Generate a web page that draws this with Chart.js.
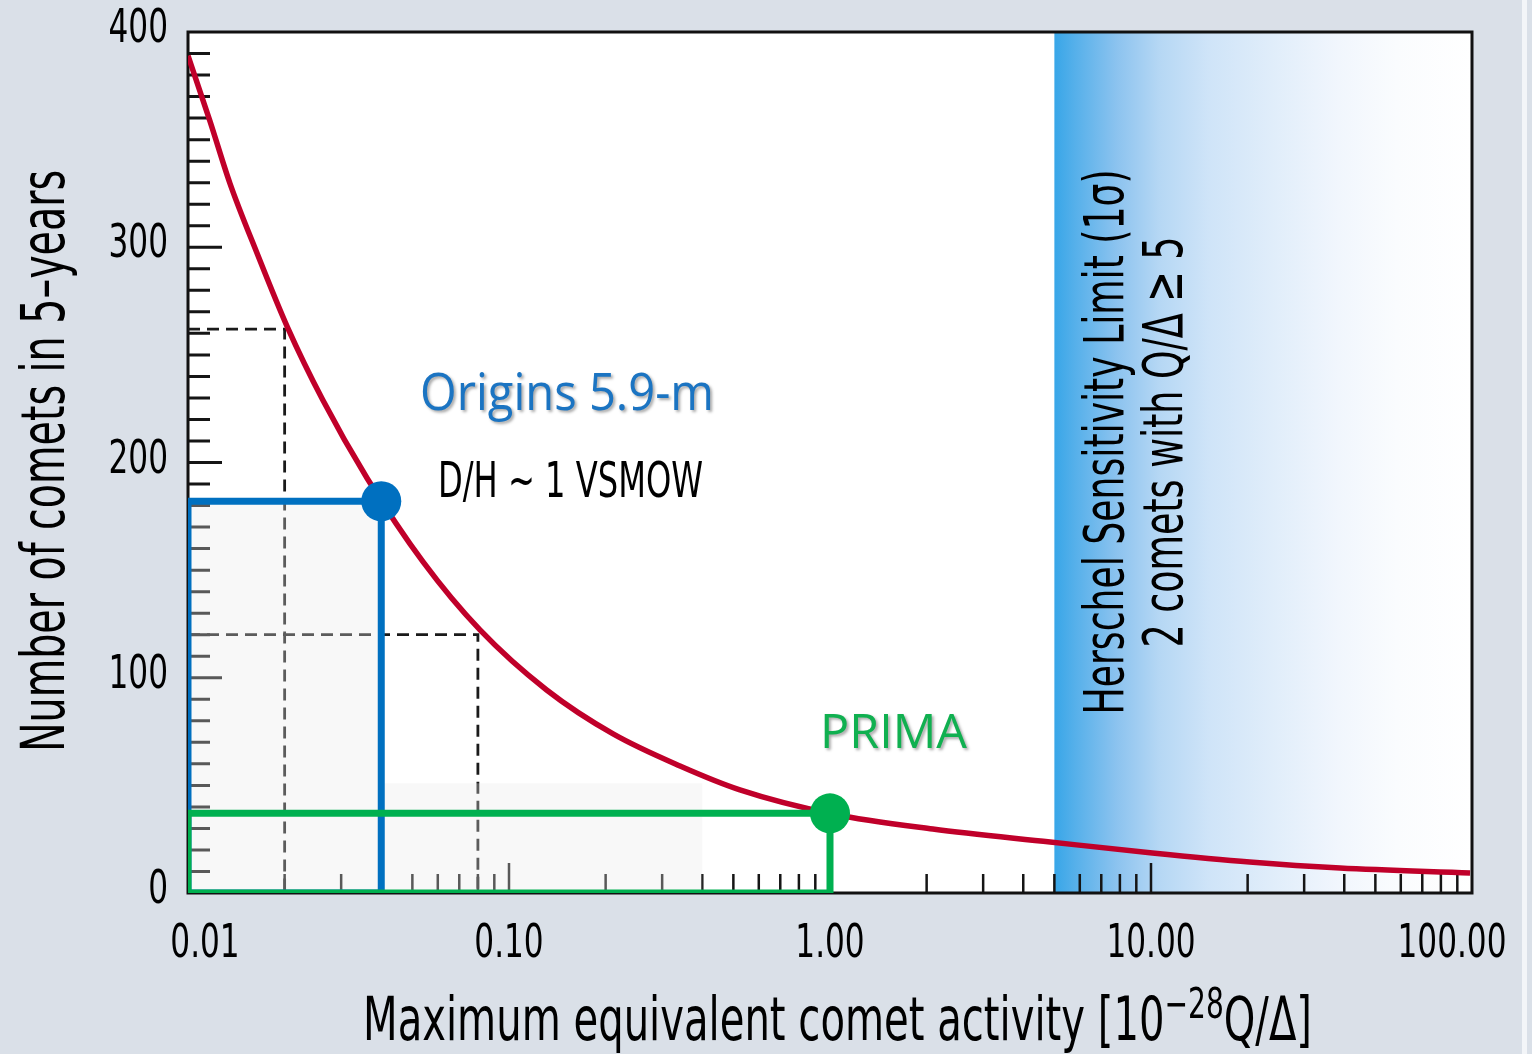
<!DOCTYPE html>
<html>
<head>
<meta charset="utf-8">
<script src="https://cdn.jsdelivr.net/npm/chart.js@4.4.1/dist/chart.umd.min.js"></script>
<style>
  html, body { margin: 0; padding: 0; background: #dae0e8; }
  canvas { display: block; }
</style>
</head>
<body>
<canvas id="cometChart" width="1532" height="1054"></canvas>
<script>
// comets expected in 5 years vs. maximum equivalent activity
const activity = [0.01, 0.0117, 0.0135, 0.0164, 0.0204, 0.0263, 0.0361, 0.054, 0.0812, 0.131, 0.211, 0.341, 0.524, 1.02, 2.09, 4.85, 10.1, 20.3, 38.8, 98.6];
const comets = [389, 358.7, 329.8, 297.3, 262.9, 229, 192.8, 153.8, 122.2, 94.3, 73.9, 59, 47.9, 36.7, 29.7, 23.7, 18.6, 14.4, 11.6, 9.3];

// mission operating points
const missionNames = ['Origins 5.9-m', 'PRIMA'];
const missionActivity = [0.04, 1.0];
const missionComets = [182, 37];

// dashed reference guides
const guideActivity = [0.02, 0.08];
const guideComets = [262, 120];

// light shaded block under the missions
const shadeActivity = 0.4;
const shadeComets = 51;

const herschelLimit = 5;

const countTicks = [0, 100, 200, 300, 400];
const activityTicks = [0.01, 0.1, 1, 10, 100];
const activityLabels = ['0.01', '0.10', '1.00', '10.00', '100.00'];

const NARROW = "'Liberation Sans Narrow', 'DejaVu Sans Condensed', 'Liberation Sans', sans-serif";
const ROUND = "'Open Sans', 'Noto Sans', sans-serif";
const BLUE = '#0070c0';
const GREEN = '#00b050';
const RED = '#c0002a';

const xMin = activityTicks[0];

function boxPath(x1, y1) {
    return [{x: xMin, y: 0}, {x: xMin, y: y1}, {x: x1, y: y1}, {x: x1, y: 0}, {x: xMin, y: 0}];
}

function guidePath(x1, y1) {
    return [{x: xMin, y: y1}, {x: x1, y: y1}, {x: x1, y: 0}];
}

// text squeezed horizontally to a given width
function fitText(ctx, text, x, y, width, align) {
    const w = ctx.measureText(text).width;
    ctx.save();
    ctx.translate(x, y);
    ctx.scale(width / w, 1);
    ctx.textAlign = align;
    ctx.fillText(text, 0, 0);
    ctx.restore();
}

const datasets = [];

// markers on top
datasets.push({
    type: 'scatter',
    data: missionActivity.map((v, i) => ({x: v, y: missionComets[i]})),
    pointRadius: 20,
    pointHoverRadius: 20,
    pointBackgroundColor: [BLUE, GREEN],
    pointBorderWidth: 0,
    order: 1
});

datasets.push({
    type: 'line',
    data: boxPath(missionActivity[1], missionComets[1]),
    borderColor: GREEN,
    borderWidth: 7,
    pointRadius: 0,
    tension: 0,
    fill: false,
    order: 2
});

datasets.push({
    type: 'line',
    data: boxPath(missionActivity[0], missionComets[0]),
    borderColor: BLUE,
    borderWidth: 7,
    pointRadius: 0,
    tension: 0,
    fill: false,
    order: 3
});

datasets.push({
    type: 'line',
    data: [
        {x: xMin, y: 0}, {x: xMin, y: missionComets[0]}, {x: missionActivity[0], y: missionComets[0]},
        {x: missionActivity[0], y: shadeComets}, {x: shadeActivity, y: shadeComets},
        {x: shadeActivity, y: 0}, {x: xMin, y: 0}
    ],
    borderWidth: 0,
    borderColor: 'rgba(0,0,0,0)',
    backgroundColor: 'rgba(232,232,232,0.32)',
    pointRadius: 0,
    tension: 0,
    fill: 'shape',
    order: 4
});

datasets.push({
    type: 'line',
    data: activity.map((v, i) => ({x: v, y: comets[i]})),
    borderColor: RED,
    borderWidth: 5.5,
    pointRadius: 0,
    cubicInterpolationMode: 'monotone',
    fill: false,
    order: 5
});

guideActivity.forEach((v, i) => {
    datasets.push({
        type: 'line',
        data: guidePath(v, guideComets[i]),
        borderColor: '#1a1a1a',
        borderWidth: 2.8,
        borderDash: [12, 7],
        pointRadius: 0,
        tension: 0,
        fill: false,
        order: 6
    });
});

const panelPlugin = {
    id: 'panel',
    beforeDraw(chart) {
        const {ctx, width, height} = chart;
        ctx.save();
        ctx.fillStyle = '#dae0e8';
        ctx.fillRect(0, 0, width, height);
        ctx.fillStyle = '#f3f5f8';
        ctx.fillRect(1522, 0, 5, height);
        ctx.restore();
    },
    beforeDatasetsDraw(chart) {
        const {ctx, chartArea: a, scales: {x, y}} = chart;
        ctx.save();
        ctx.fillStyle = '#ffffff';
        ctx.fillRect(a.left, a.top, a.right - a.left, a.bottom - a.top);

        // Herschel sensitivity band
        const hx = x.getPixelForValue(herschelLimit);
        const g = ctx.createLinearGradient(hx, 0, a.right, 0);
        g.addColorStop(0, '#38a6e8');
        g.addColorStop(0.05, '#56b0ea');
        g.addColorStop(0.15, '#8cc3ef');
        g.addColorStop(0.25, '#b5d7f4');
        g.addColorStop(0.37, '#cfe4f8');
        g.addColorStop(0.52, '#e0edfa');
        g.addColorStop(0.68, '#f1f6fd');
        g.addColorStop(0.82, '#fafcfe');
        g.addColorStop(1, '#ffffff');
        ctx.fillStyle = g;
        ctx.fillRect(hx, a.top, a.right - hx, a.bottom - a.top);

        // inward tick marks, left axis
        ctx.strokeStyle = '#151515';
        ctx.lineWidth = 3;
        ctx.beginPath();
        for (let v = 10; v < 400; v += 10) {
            const py = y.getPixelForValue(v);
            const len = v % 100 === 0 ? 34 : 22;
            ctx.moveTo(a.left, py);
            ctx.lineTo(a.left + len, py);
        }
        ctx.stroke();

        // inward tick marks, bottom axis (log decades)
        ctx.lineWidth = 2.5;
        ctx.beginPath();
        for (let d = -2; d < 2; d++) {
            for (let m = 1; m <= 9; m++) {
                if (d === -2 && m === 1) continue;
                const px = x.getPixelForValue(m * Math.pow(10, d));
                const len = m === 1 ? 30 : 19;
                ctx.moveTo(px, a.bottom);
                ctx.lineTo(px, a.bottom - len);
            }
        }
        ctx.stroke();

        ctx.lineWidth = 3;
        ctx.strokeStyle = '#111111';
        ctx.strokeRect(a.left, a.top, a.right - a.left, a.bottom - a.top);

        // band caption
        ctx.fillStyle = '#000000';
        ctx.textBaseline = 'alphabetic';
        ctx.font = '56px ' + NARROW;
        const cy = 442;
        ctx.save();
        ctx.translate(1123, cy);
        ctx.rotate(-Math.PI / 2);
        fitText(ctx, 'Herschel Sensitivity Limit (1σ)', 0, 0, 545, 'center');
        ctx.restore();
        ctx.save();
        ctx.translate(1182, cy);
        ctx.rotate(-Math.PI / 2);
        fitText(ctx, '2 comets with Q/Δ ≥ 5', 0, 0, 411, 'center');
        ctx.restore();
        ctx.restore();
    },
    afterDatasetsDraw(chart) {
        const {ctx} = chart;
        ctx.save();
        ctx.textBaseline = 'alphabetic';

        ctx.shadowColor = 'rgba(0,0,0,0.35)';
        ctx.shadowOffsetX = 2;
        ctx.shadowOffsetY = 2;
        ctx.shadowBlur = 3;
        ctx.font = '52px ' + ROUND;
        ctx.fillStyle = '#1b74c2';
        fitText(ctx, missionNames[0], 420, 410, 294, 'left');
        ctx.font = '48px ' + ROUND;
        ctx.fillStyle = '#10b050';
        fitText(ctx, missionNames[1], 820, 748, 147, 'left');

        ctx.shadowColor = 'rgba(0,0,0,0)';
        ctx.fillStyle = '#000000';
        ctx.font = '50px ' + NARROW;
        fitText(ctx, 'D/H ~ 1 VSMOW', 438, 497, 265, 'left');
        ctx.restore();
    },
    afterDraw(chart) {
        const {ctx, scales: {x, y}} = chart;
        ctx.save();
        ctx.fillStyle = '#000000';

        // tick labels
        ctx.font = '47px ' + NARROW;
        const k = Math.min(1, 109 / ctx.measureText('100.00').width);
        ctx.textBaseline = 'middle';
        countTicks.forEach(v => {
            const py = y.getPixelForValue(v) - 2;
            ctx.save();
            ctx.translate(168, py);
            ctx.scale(k, 1);
            ctx.textAlign = 'right';
            ctx.fillText(String(v), 0, 0);
            ctx.restore();
        });
        const edgeNudge = [17, 0, 0, 0, -20];
        ctx.textBaseline = 'alphabetic';
        activityTicks.forEach((v, i) => {
            const px = x.getPixelForValue(v) + edgeNudge[i];
            ctx.save();
            ctx.translate(px, 957);
            ctx.scale(k, 1);
            ctx.textAlign = 'center';
            ctx.fillText(activityLabels[i], 0, 0);
            ctx.restore();
        });

        // x axis title with superscript exponent
        const head = 'Maximum equivalent comet activity [10';
        const sup = '\u221228';
        const tail = 'Q/Δ]';
        ctx.font = '60px ' + NARROW;
        const w1 = ctx.measureText(head).width;
        const w3 = ctx.measureText(tail).width;
        ctx.font = '42px ' + NARROW;
        const w2 = ctx.measureText(sup).width;
        ctx.save();
        ctx.translate(363, 1040);
        ctx.scale(949 / (w1 + w2 + w3), 1);
        ctx.textAlign = 'left';
        ctx.font = '60px ' + NARROW;
        ctx.fillText(head, 0, 0);
        ctx.fillText(tail, w1 + w2, 0);
        ctx.font = '42px ' + NARROW;
        ctx.fillText(sup, w1, -22);
        ctx.restore();

        // y axis title
        ctx.font = '60px ' + NARROW;
        ctx.save();
        ctx.translate(64, 461);
        ctx.rotate(-Math.PI / 2);
        fitText(ctx, 'Number of comets in 5\u2013years', 0, 0, 582, 'center');
        ctx.restore();

        ctx.restore();
    }
};

new Chart(document.getElementById('cometChart'), {
    type: 'scatter',
    data: {datasets: datasets},
    options: {
        responsive: false,
        animation: false,
        devicePixelRatio: 1,
        layout: {padding: {left: 188, top: 32, right: 60, bottom: 161}},
        scales: {
            x: {type: 'logarithmic', min: 0.01, max: 100, display: false},
            y: {type: 'linear', min: 0, max: 400, display: false}
        },
        plugins: {
            legend: {display: false},
            tooltip: {enabled: false}
        }
    },
    plugins: [panelPlugin]
});
</script>
</body>
</html>
